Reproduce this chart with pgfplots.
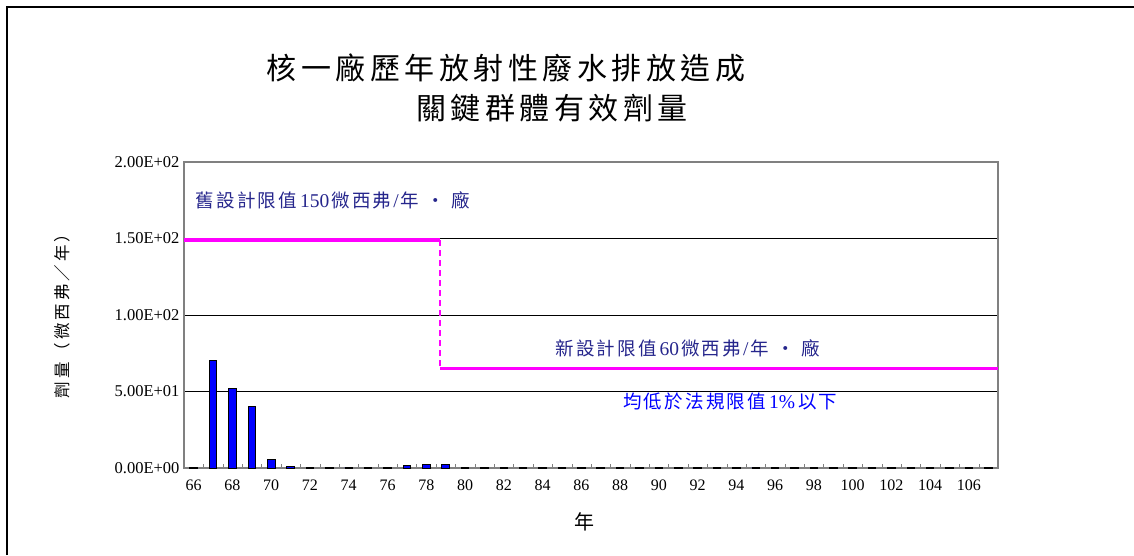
\documentclass[border=0pt]{standalone}
\usepackage{fontspec}
\setmainfont{Liberation Serif}
\newfontfamily\cjk{Noto Sans CJK TC}[LetterSpace=12]
\newfontfamily\cjktitle{Noto Sans CJK TC}[LetterSpace=15]
\newfontfamily\cjklabel{Noto Sans CJK TC}[LetterSpace=18]
\usepackage{pgfplots}
\pgfplotsset{compat=1.18}

\definecolor{navytext}{RGB}{38,38,140}
\definecolor{limitpink}{RGB}{255,0,255}
\definecolor{barblue}{RGB}{0,0,255}
\definecolor{axisgray}{RGB}{128,128,128}

% CJK and Latin parts of the notes, Latin a little larger as in the original
\newcommand{\cj}[1]{{\fontsize{18.5}{18.5}\selectfont\cjk #1}}
\newcommand{\lt}[1]{{\fontsize{19.5}{19.5}\selectfont #1}}

\begin{document}
\begin{tikzpicture}
  \path[use as bounding box] (0,0) rectangle (1134pt,555pt);
  % outer frame of the original chart (only top and left show)
  \draw[line width=1.2pt] (7pt,0pt) -- (7pt,548pt) -- (1134pt,548pt);

  \begin{axis}[
      at={(184pt,87pt)}, anchor=south west,
      scale only axis, width=814pt, height=306pt,
      xmin=65.5, xmax=107.5,
      ymin=0, ymax=200,
      xtick={66,68,...,106},
      xticklabels={66,68,70,72,74,76,78,80,82,84,86,88,90,92,94,96,98,100,102,104,106},
      minor xtick={65.5,66.5,...,107.5},
      ytick={0,50,100,150,200},
      yticklabels={0.00E+00,5.00E+01,1.00E+02,1.50E+02,2.00E+02},
      xtick pos=bottom, ytick pos=left,
      every major x tick/.append style={draw=none},
      minor tick length=4pt,
      ytick style={black},
      major tick length=4pt,
      y tick label style={font=\fontsize{16.5}{16.5}\selectfont, xshift=-1pt},
      x tick label style={font=\fontsize{16}{16}\selectfont, yshift=-8pt},
      ymajorgrids,
      grid style={black, line width=0.8pt},
      axis line style={axisgray, line width=1.5pt},
      xlabel={\cjk 年},
      xlabel style={at={(axis description cs:0.4926,-0.176)}, anchor=center,
        font=\fontsize{20}{20}\selectfont},
      ylabel={\cjklabel 劑量（微西弗／年）},
      ylabel style={at={(axis description cs:-0.15,0.51)}, anchor=center,
        font=\fontsize{16.5}{16.5}\selectfont},
      clip=false,
    ]

    % yearly dose, 66..107
    \addplot[ybar, bar width=7.5pt, bar shift=0pt, fill=barblue, draw=black, line width=0.9pt]
      coordinates {
        (66,0.5) (67,70.5) (68,51.8) (69,40.3) (70,5.6) (71,1.2)
        (72,0.5) (73,0.5) (74,0.5) (75,0.5) (76,0.5) (77,1.8)
        (78,2.4) (79,2.4) (80,0.5) (81,0.5) (82,0.5) (83,0.5)
        (84,0.5) (85,0.5) (86,0.5) (87,0.5) (88,0.5) (89,0.5)
        (90,0.5) (91,0.5) (92,0.5) (93,0.5) (94,0.5) (95,0.5)
        (96,0.5) (97,0.5) (98,0.5) (99,0.5) (100,0.5) (101,0.5)
        (102,0.5) (103,0.5) (104,0.5) (105,0.5) (106,0.5) (107,0.5)
      };

    % design limits
    \addplot[sharp plot, limitpink, line width=3.5pt, forget plot]
      coordinates {(65.5,149) (78.7,149)};
    \addplot[sharp plot, limitpink, line width=1.8pt, dash pattern=on 6pt off 4pt, forget plot]
      coordinates {(78.7,149) (78.7,65)};
    \addplot[sharp plot, limitpink, line width=3.5pt, forget plot]
      coordinates {(78.7,65) (107.5,65)};

    \node[anchor=west, navytext, inner sep=0pt]
      at (axis cs:66.1,175) {\cj{舊設計限值}\hspace{3pt}\lt{150}\hspace{2pt}\cj{微西弗}\hspace{2pt}\lt{/}\hspace{2pt}\cj{年}\hspace{7pt}\cj{・}\hspace{7pt}\cj{廠}};
    \node[anchor=west, navytext, inner sep=0pt]
      at (axis cs:84.65,78.5) {\cj{新設計限值}\hspace{3pt}\lt{60}\hspace{2pt}\cj{微西弗}\hspace{2pt}\lt{/}\hspace{2pt}\cj{年}\hspace{7pt}\cj{・}\hspace{7pt}\cj{廠}};
    \node[anchor=west, barblue, inner sep=0pt]
      at (axis cs:88.15,43.5) {\cj{均低於法規限值}\hspace{3pt}\lt{1\%}\hspace{3pt}\cj{以下}};

    \node[anchor=center, font=\fontsize{30}{30}\selectfont]
      at (axis description cs:0.3956,1.307) {\cjktitle 核一廠歷年放射性廢水排放造成};
    \node[anchor=center, font=\fontsize{30}{30}\selectfont]
      at (axis description cs:0.452,1.176) {\cjktitle 關鍵群體有效劑量};
  \end{axis}
\end{tikzpicture}
\end{document}
